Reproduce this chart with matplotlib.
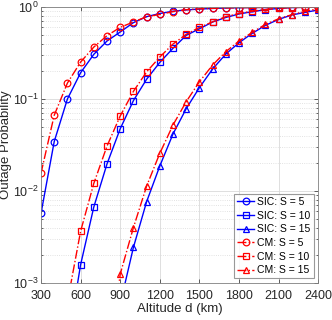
import numpy as np
import matplotlib
matplotlib.use("Agg")
import matplotlib.pyplot as plt
from matplotlib.ticker import LogLocator, FixedLocator

plt.rcParams['font.family'] = ['Liberation Sans', 'DejaVu Sans']
plt.rcParams['mathtext.fontset'] = 'custom'
plt.rcParams['mathtext.rm'] = 'Liberation Sans'
plt.rcParams['mathtext.it'] = 'Liberation Sans'

# ------------------------------ Data ------------------------------
d = np.arange(300, 2500, 100)   # altitude (km)

sic_s5 = [0.0057, 0.0344, 0.100, 0.193, 0.306, 0.427, 0.535, 0.676, 0.785, 0.85,
          0.90, 0.93, 0.95, 0.965, 0.975, 0.982, 0.987, 0.99, 0.992, 0.994, 0.995, 0.996]
cm_s5 = [0.0156, 0.0665, 0.149, 0.252, 0.367, 0.488, 0.601, 0.687, 0.785, 0.83,
         0.89, 0.935, 0.955, 0.968, 0.977, 0.983, 0.988, 0.991, 0.993, 0.995, 0.996, 0.997]

d10 = np.arange(500, 2500, 100)
sic_s10 = [0.00021, 0.00158, 0.0067, 0.0197, 0.0475, 0.096, 0.164, 0.25, 0.356, 0.492,
           0.58, 0.687, 0.77, 0.84, 0.89, 0.935, 0.966, 0.985, 0.993, 0.997]
cm_s10 = [0.00062, 0.00365, 0.0121, 0.0308, 0.0654, 0.121, 0.197, 0.286, 0.396, 0.505,
          0.60, 0.69, 0.785, 0.85, 0.90, 0.94, 0.97, 0.985, 0.993, 0.997]

d15 = np.arange(800, 2500, 100)
sic_s15 = [0.00005, 0.00059, 0.00244, 0.00765, 0.0187, 0.0417, 0.0785, 0.133, 0.212,
           0.308, 0.409, 0.517, 0.632, 0.734, 0.819, 0.875, 0.928]
cm_s15 = [0.0001, 0.00125, 0.0040, 0.0113, 0.0257, 0.0522, 0.0935, 0.154, 0.234,
          0.327, 0.427, 0.53, 0.648, 0.745, 0.825, 0.897, 0.96]

# ------------------------------ Plotting ------------------------------
fig = plt.figure(figsize=(3.32, 3.20), dpi=100)
ax = fig.add_axes([0.1235, 0.1156, 0.835, 0.8625])

blue = '#0000FF'
red = '#FF0000'
kw = dict(markersize=4.8, markerfacecolor='none', linewidth=1.0, markeredgewidth=0.9)

ax.plot(d, sic_s5, '-o', color=blue, label='SIC: S = 5', **kw)
ax.plot(d10, sic_s10, '-s', color=blue, label='SIC: S = 10', **kw)
ax.plot(d15, sic_s15, '-^', color=blue, label='SIC: S = 15', **kw)
ax.plot(d, cm_s5, '-.o', color=red, label='CM: S = 5', **kw)
ax.plot(d10, cm_s10, '-.s', color=red, label='CM: S = 10', **kw)
ax.plot(d15, cm_s15, '-.^', color=red, label='CM: S = 15', **kw)

ax.set_yscale('log')
ax.set_xlim(300, 2400)
ax.set_ylim(1e-3, 1)
ax.xaxis.set_major_locator(FixedLocator(np.arange(300, 2401, 300)))
ax.yaxis.set_major_locator(LogLocator(base=10, numticks=10))
ax.yaxis.set_minor_locator(LogLocator(base=10, subs=np.arange(2, 10), numticks=10))

ax.grid(True, which='major', color='#d9d9d9', linewidth=0.6)
ax.grid(True, which='minor', axis='y', color='#d9d9d9', linestyle=':', linewidth=0.6)
ax.set_axisbelow(True)

for sp in ax.spines.values():
    sp.set_color('#808080')
    sp.set_linewidth(0.6)
ax.tick_params(which='both', direction='in', top=True, right=True,
               colors='#262626', labelsize=9, length=3, width=0.5)
ax.tick_params(axis='x', pad=5)
ax.tick_params(axis='y', pad=2)
ax.tick_params(which='minor', length=1.5)

ax.set_xlabel('Altitude d (km)', fontsize=9.5, color='#262626', labelpad=1)
ax.set_ylabel('Outage Probability', fontsize=9.5, color='#262626')
ax.yaxis.set_label_coords(-0.103, 0.5)

leg = ax.legend(loc='lower right', fontsize=7.5, frameon=True, fancybox=False,
                handlelength=1.6, handletextpad=0.3, borderpad=0.3, labelspacing=0.35,
                borderaxespad=0.45)
leg.get_frame().set_edgecolor('#808080')
leg.get_frame().set_linewidth(0.8)

fig.savefig('out.png', dpi=100)
